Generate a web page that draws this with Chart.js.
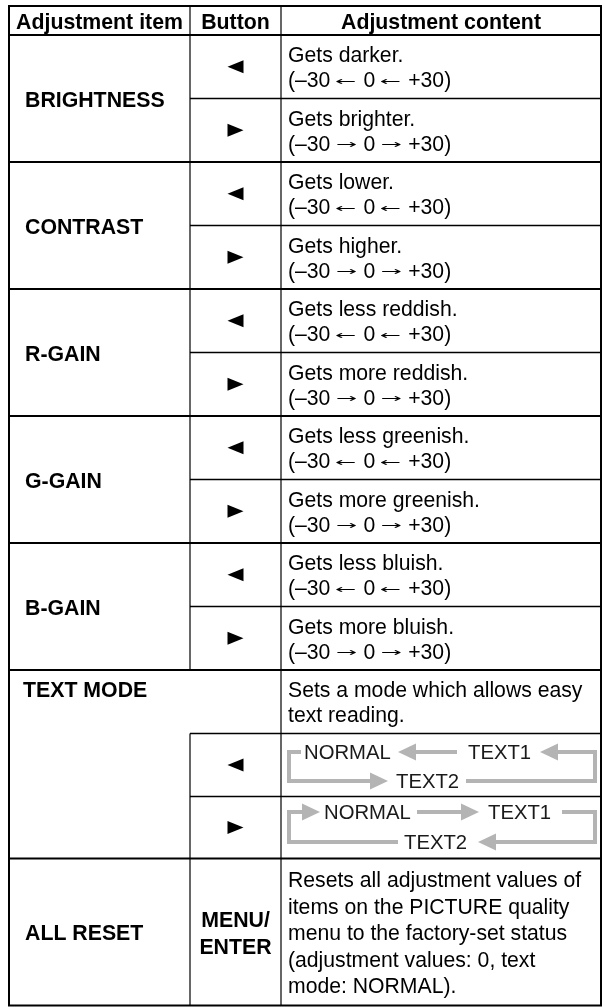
<!DOCTYPE html>
<html lang="en">
<head>
<meta charset="UTF-8">
<title>PICTURE adjustment table</title>
<style>
  html, body { margin: 0; padding: 0; background: #fff; }
  .chart-container { position: relative; width: 605px; height: 1007px; }
</style>
</head>
<body>
<div class="chart-container"><canvas id="tableChart"></canvas></div>
<script src="https://cdn.jsdelivr.net/npm/chart.js"></script>
<script>
// Table content
const headers = ['Adjustment item', 'Button', 'Adjustment content'];
const items = ['BRIGHTNESS', 'CONTRAST', 'R-GAIN', 'G-GAIN', 'B-GAIN'];
const lessText = ['Gets darker.', 'Gets lower.', 'Gets less reddish.', 'Gets less greenish.', 'Gets less bluish.'];
const moreText = ['Gets brighter.', 'Gets higher.', 'Gets more reddish.', 'Gets more greenish.', 'Gets more bluish.'];
// range line split in runs: low end, arrow, middle, arrow, high end
const rangeParts = ['(\u201330', '0', '+30)'];
const arrowLess = '\u2190';
const arrowMore = '\u2192';
const textModeLabel = 'TEXT MODE';
const textModeInfo = ['Sets a mode which allows easy', 'text reading.'];
const modes = ['NORMAL', 'TEXT1', 'TEXT2'];
const resetLabel = 'ALL RESET';
const resetButton = ['MENU/', 'ENTER'];
const resetInfo = ['Resets all adjustment values of', 'items on the PICTURE quality',
  'menu to the factory-set status', '(adjustment values: 0, text', 'mode: NORMAL).'];

// Layout, in page units of the x (0..605) and y (0..1007) scales
const colEdges = [9, 190, 281, 601];
const tableTop = 6;
const headerH = 29;
const subRowH = 63.5;
const textModeH = [63.5, 63, 62];
const resetH = 147;

const FONT = '"Liberation Sans", Arial, Helvetica, sans-serif';
const BODY_SIZE = 21.2;
const BOLD_SIZE = 21.3;
const GRAY = '#b4b4b4';

const tablePlugin = {
  id: 'tableDraw',
  afterDraw(chart) {
    const ctx = chart.ctx;
    const X = v => chart.scales.x.getPixelForValue(v);
    const Y = v => chart.scales.y.getPixelForValue(v);

    ctx.save();
    ctx.fillStyle = '#fff';
    ctx.fillRect(0, 0, chart.width, chart.height);

    function hLine(x1, x2, y, w) {
      ctx.strokeStyle = '#000';
      ctx.lineWidth = w;
      ctx.beginPath();
      ctx.moveTo(X(x1), Y(y));
      ctx.lineTo(X(x2), Y(y));
      ctx.stroke();
    }
    function vLine(x, y1, y2, w) {
      ctx.strokeStyle = '#000';
      ctx.lineWidth = w;
      ctx.beginPath();
      ctx.moveTo(X(x), Y(y1));
      ctx.lineTo(X(x), Y(y2));
      ctx.stroke();
    }
    function setFont(opts) {
      ctx.font = (opts.bold ? 'bold ' : '') + (opts.size || (opts.bold ? BOLD_SIZE : BODY_SIZE)) + 'px ' + FONT;
    }
    function text(str, x, baseline, opts) {
      opts = opts || {};
      ctx.fillStyle = opts.color || '#000';
      setFont(opts);
      ctx.textAlign = opts.align || 'left';
      ctx.textBaseline = 'alphabetic';
      ctx.fillText(str, X(x), Y(baseline));
      return ctx.measureText(str).width;
    }
    // lines centred around cy
    function block(lines, x, cy, lh, opts) {
      lines.forEach((s, i) => text(s, x, cy + 8 + (i - (lines.length - 1) / 2) * lh, opts));
    }
    // thin long arrow glyph, stretched to the given ink width
    function arrowGlyph(ch, x, baseline, inkW) {
      ctx.save();
      ctx.font = '12px "DejaVu Sans", sans-serif';
      ctx.textAlign = 'left';
      ctx.textBaseline = 'alphabetic';
      const m = ctx.measureText(ch);
      const w = m.actualBoundingBoxLeft + m.actualBoundingBoxRight;
      const mid = (m.actualBoundingBoxAscent - m.actualBoundingBoxDescent) / 2;
      ctx.translate(X(x), Y(baseline - 6 + mid));
      ctx.scale(inkW / w, 1);
      ctx.fillStyle = '#000';
      ctx.fillText(ch, m.actualBoundingBoxLeft, 0);
      ctx.restore();
    }
    function rangeLine(x, baseline, ch) {
      let cx = x;
      cx += text(rangeParts[0], cx, baseline) + 5;
      arrowGlyph(ch, cx, baseline, 21);
      cx += 21 + 7;
      cx += text(rangeParts[1], cx, baseline) + 5;
      arrowGlyph(ch, cx, baseline, 21);
      cx += 21 + 7;
      text(rangeParts[2], cx, baseline);
    }
    function triangle(cx, cy, dir) {
      ctx.fillStyle = '#000';
      ctx.beginPath();
      ctx.moveTo(X(cx + dir * 8), Y(cy));
      ctx.lineTo(X(cx - dir * 8), Y(cy - 6.5));
      ctx.lineTo(X(cx - dir * 8), Y(cy + 6.5));
      ctx.closePath();
      ctx.fill();
    }
    function grayPath(pts) {
      ctx.strokeStyle = GRAY;
      ctx.lineWidth = 4;
      ctx.lineJoin = 'miter';
      ctx.beginPath();
      pts.forEach((p, i) => i ? ctx.lineTo(X(p[0]), Y(p[1])) : ctx.moveTo(X(p[0]), Y(p[1])));
      ctx.stroke();
    }
    function grayHead(tipX, y, dir) {
      ctx.fillStyle = GRAY;
      ctx.beginPath();
      ctx.moveTo(X(tipX), Y(y));
      ctx.lineTo(X(tipX - dir * 18), Y(y - 8.5));
      ctx.lineTo(X(tipX - dir * 18), Y(y + 8.5));
      ctx.closePath();
      ctx.fill();
    }

    const [xL, xC1, xC2, xR] = colEdges;
    const btnX = (xC1 + xC2) / 2;
    const txtX = xC2 + 7;
    const labelX = xL + 16;
    const headBottom = tableTop + headerH;

    // header
    text(headers[0], (xL + xC1) / 2, headBottom - 6, { bold: true, align: 'center' });
    text(headers[1], btnX, headBottom - 6, { bold: true, align: 'center' });
    text(headers[2], (xC2 + xR) / 2, headBottom - 6, { bold: true, align: 'center' });
    hLine(xL, xR, headBottom, 2);

    // adjustment sections
    let y = headBottom;
    items.forEach((item, i) => {
      const mid = y + subRowH;
      const bottom = mid + subRowH;
      const c1 = y + subRowH / 2, c2 = mid + subRowH / 2;
      text(item, labelX, mid + 8, { bold: true });
      triangle(btnX, c1, -1);
      triangle(btnX, c2, 1);
      text(lessText[i], txtX, c1 + 8 - 12.5);
      rangeLine(txtX, c1 + 8 + 12.5, arrowLess);
      text(moreText[i], txtX, c2 + 8 - 12.5);
      rangeLine(txtX, c2 + 8 + 12.5, arrowMore);
      hLine(xC1, xR, mid, 1.5);
      hLine(xL, xR, bottom, 2);
      y = bottom;
    });

    // TEXT MODE
    const tm0 = y, tm1 = tm0 + textModeH[0], tm2 = tm1 + textModeH[1], tm3 = tm2 + textModeH[2];
    const tmCy = (tm0 + tm1) / 2;
    block(textModeInfo, txtX, tmCy, 25);
    text(textModeLabel, labelX - 2, tmCy + 8 - 12.5, { bold: true });
    hLine(xC1, xR, tm1, 1.5);
    hLine(xC1, xR, tm2, 1.5);
    hLine(xL, xR, tm3, 2);
    triangle(btnX, (tm1 + tm2) / 2, -1);
    triangle(btnX, (tm2 + tm3) / 2, 1);

    // diagram for the left button: NORMAL <- TEXT1 <- TEXT2 <- NORMAL
    let a = tm1 + 18.5, b = tm1 + 47.5;
    const dOpt = { size: 20.3, color: '#1a1a1a' };
    text(modes[0], 304, a + 7, dOpt);
    text(modes[1], 468, a + 7, dOpt);
    text(modes[2], 396, b + 7, dOpt);
    grayPath([[301, a], [289, a], [289, b], [370, b]]);
    grayHead(388, b, 1);
    grayPath([[457, a], [414, a]]);
    grayHead(398, a, -1);
    grayPath([[466, b], [595, b], [595, a], [556, a]]);
    grayHead(540, a, -1);

    // diagram for the right button: NORMAL -> TEXT1 -> TEXT2 -> NORMAL
    a = tm2 + 15.5; b = tm2 + 45.5;
    text(modes[0], 324, a + 7, dOpt);
    text(modes[1], 488, a + 7, dOpt);
    text(modes[2], 404, b + 7, dOpt);
    grayPath([[398, b], [289, b], [289, a], [303, a]]);
    grayHead(320, a, 1);
    grayPath([[417, a], [462, a]]);
    grayHead(479, a, 1);
    grayPath([[562, a], [595, a], [595, b], [496, b]]);
    grayHead(478, b, -1);

    // ALL RESET
    const rBottom = tm3 + resetH;
    const rCy = (tm3 + rBottom) / 2;
    text(resetLabel, labelX, rCy + 8, { bold: true });
    block(resetButton, btnX, rCy, 27, { bold: true, align: 'center' });
    block(resetInfo, txtX, rCy, 26.5);

    // column lines and outer border
    vLine(xC1, tableTop, tm0, 1.2);
    vLine(xC1, tm1, rBottom, 1.2);
    vLine(xC2, tableTop, rBottom, 1.2);
    ctx.strokeStyle = '#000';
    ctx.lineWidth = 2;
    ctx.strokeRect(X(xL), Y(tableTop), X(xR) - X(xL), Y(rBottom) - Y(tableTop));
    ctx.restore();
  }
};

new Chart(document.getElementById('tableChart'), {
  type: 'scatter',
  data: { datasets: [{ data: [] }] },
  options: {
    responsive: true,
    maintainAspectRatio: false,
    animation: false,
    layout: { padding: 0 },
    plugins: { legend: { display: false }, tooltip: { enabled: false } },
    scales: {
      x: { type: 'linear', display: false, min: 0, max: 605 },
      y: { type: 'linear', display: false, min: 0, max: 1007, reverse: true }
    }
  },
  plugins: [tablePlugin]
});
</script>
</body>
</html>
